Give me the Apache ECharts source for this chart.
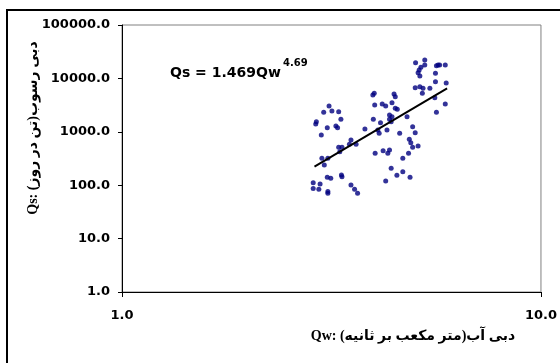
<!DOCTYPE html>
<html>
<head>
<meta charset="utf-8">
<script src="https://cdn.jsdelivr.net/npm/echarts@6.0.0/dist/echarts.min.js"></script>
<style>
  html, body { margin: 0; padding: 0; background: #fff; }
  #chart { width: 560px; height: 363px; }
</style>
</head>
<body>
<div id="chart"></div>
<script>
// water discharge Qw (m3/s) and sediment discharge Qs (t/day)
const qwValues = [
  5.02, 5.28, 5.28, 5.17, 5.12, 5.09, 5.14, 5.01, 5.14, 5.23,
  5.43, 5.21, 4.00, 3.97, 4.46, 4.49, 4.01, 4.18, 4.26, 4.41,
  4.49, 4.54, 3.12, 3.03, 3.17, 3.29, 2.91, 2.90, 3.09, 3.24,
  3.27, 3.33, 2.99, 3.80, 3.98, 4.14, 4.35, 4.41, 4.35, 4.79,
  4.29, 4.08, 4.11, 4.60, 4.94, 5.01, 4.85, 4.89, 4.94, 5.09,
  3.52, 3.49, 3.62, 3.29, 3.35, 3.31, 3.00, 3.10, 3.04, 4.02,
  4.20, 4.35, 4.31, 4.68, 4.83, 4.39, 4.53, 4.68, 4.26, 4.87,
  3.09, 3.15, 3.34, 3.35, 2.86, 2.97, 2.86, 2.95, 3.10, 3.10,
  3.52, 3.59, 3.65, 5.68, 5.63, 5.91, 5.60, 5.60, 5.94, 5.58,
  5.91, 5.63, 5.73, 4.39
];
const qsValues = [
  19700, 22100, 17800, 16100, 14400, 12800, 11100, 6700, 7000, 6530,
  6530, 5260, 5260, 4890, 5100, 4540, 3170, 3320, 3040, 3510,
  2750, 2640, 3040, 2320, 2450, 2380, 1550, 1400, 1190, 1280,
  1190, 1710, 871, 1130, 1710, 1480, 1710, 1920, 2060, 1920,
  1080, 1080, 937, 937, 1250, 962, 724, 625, 513, 542,
  702, 583, 583, 513, 513, 424, 319, 319, 239, 396,
  443, 456, 396, 319, 396, 207, 153, 179, 120, 141,
  141, 135, 155, 144, 111, 105, 87, 84, 76, 71,
  101, 84, 71, 17800, 17300, 17800, 12500, 8670, 8200, 4350,
  3320, 2320, 17800, 1550
];
// power-law trend line end points
const trendQw = [2.88, 5.97];
const trendQs = [222, 6525];

const xTicks = [1, 10];
const yTicks = [1, 10, 100, 1000, 10000, 100000];

const xTitle = 'دبی آب(متر مکعب بر ثانیه) :Qw';
const yTitle = 'دبی رسوب(تن در روز) :Qs';
const eqMain = 'Qs = 1.469Qw';
const eqPower = '4.69';

const NUM_FONT = "'DejaVu Sans', sans-serif";
const TITLE_FONT = "'Liberation Serif', 'DejaVu Sans', serif";
const RLE = '\u202B', PDF = '\u202C';

const AXIS_LINE = { show: true, onZero: false, lineStyle: { color: '#000', width: 1 } };

const chart = echarts.init(document.getElementById('chart'), null, { renderer: 'canvas' });

chart.setOption({
  animation: false,
  backgroundColor: '#fff',
  grid: {
    left: 122, right: 13, top: 25, bottom: 71,
    show: true, borderColor: '#808080', borderWidth: 1,
  },
  xAxis: {
    type: 'log',
    logBase: 10,
    min: xTicks[0],
    max: xTicks[xTicks.length - 1],
    axisLine: AXIS_LINE,
    axisTick: { show: true, length: 5, lineStyle: { color: '#000' } },
    minorTick: { show: false },
    splitLine: { show: false },
    axisLabel: {
      color: '#000', fontFamily: NUM_FONT, fontWeight: 'bold', fontSize: 13, margin: 17,
      showMinLabel: true, showMaxLabel: true,
      formatter: (v) => Number(v).toFixed(1),
    },
  },
  yAxis: {
    type: 'log',
    logBase: 10,
    min: yTicks[0],
    max: yTicks[yTicks.length - 1],
    axisLine: AXIS_LINE,
    axisTick: { show: true, length: 4, lineStyle: { color: '#000' } },
    minorTick: { show: false },
    splitLine: { show: false },
    axisLabel: {
      color: '#000', fontFamily: NUM_FONT, fontWeight: 'bold', fontSize: 13, margin: 12,
      showMinLabel: true, showMaxLabel: true,
      formatter: (v) => Number(v).toFixed(1),
    },
  },
  series: [
    {
      type: 'scatter',
      symbol: 'circle',
      symbolSize: 5,
      itemStyle: { color: '#000080' },
      data: qwValues.map((x, i) => [x, qsValues[i]]),
      z: 2,
    },
    {
      type: 'line',
      showSymbol: false,
      lineStyle: { color: '#000', width: 2 },
      data: trendQw.map((x, i) => [x, trendQs[i]]),
      z: 3,
    },
  ],
  graphic: [
    {
      type: 'rect',
      shape: { x: 7, y: 10, width: 620, height: 420 },
      style: { fill: 'none', stroke: '#000', lineWidth: 2 },
      silent: true,
    },
    {
      type: 'text',
      x: 170, y: 73,
      style: {
        text: eqMain, fill: '#000', font: "bold 14px 'DejaVu Sans', sans-serif",
        align: 'left', verticalAlign: 'middle',
      },
    },
    {
      type: 'text',
      x: 283, y: 63,
      style: {
        text: eqPower, fill: '#000', font: "bold 10px 'DejaVu Sans', sans-serif",
        align: 'left', verticalAlign: 'middle',
      },
    },
    {
      type: 'text',
      x: 413, y: 336,
      style: {
        text: RLE + xTitle + PDF, fill: '#000', font: 'bold 14px ' + TITLE_FONT,
        align: 'center', verticalAlign: 'middle',
      },
    },
    {
      type: 'text',
      x: 33, y: 128,
      rotation: Math.PI / 2,
      style: {
        text: RLE + yTitle + PDF, fill: '#000', font: 'bold 14px ' + TITLE_FONT,
        align: 'center', verticalAlign: 'middle',
      },
    },
  ],
});
</script>
</body>
</html>
